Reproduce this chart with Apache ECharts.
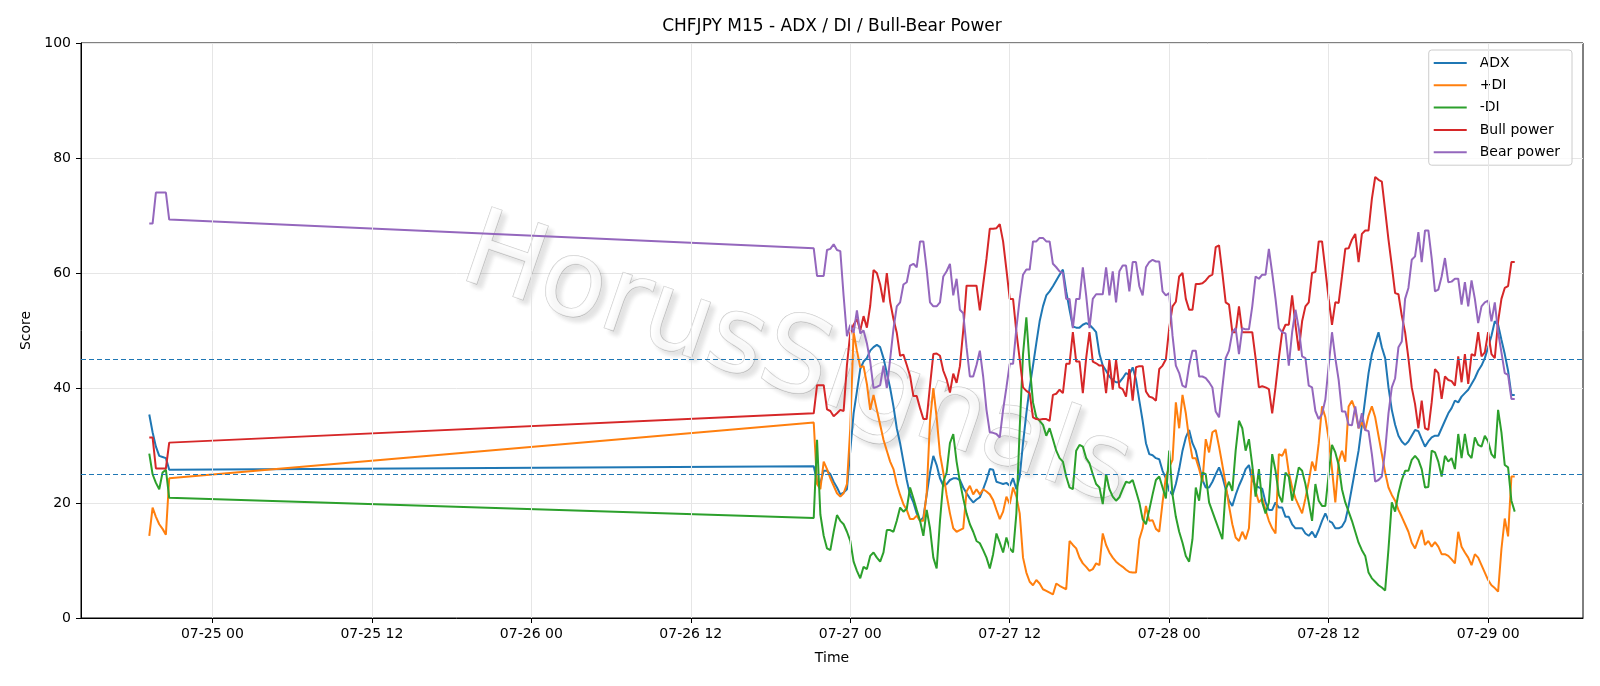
<!DOCTYPE html>
<html>
<head>
<meta charset="utf-8">
<title>CHFJPY M15 - ADX / DI / Bull-Bear Power</title>
<script src="https://cdn.jsdelivr.net/npm/echarts@6/dist/echarts.min.js"></script>
<style>
  html, body { margin: 0; padding: 0; background: #fff; }
  #chart { width: 1600px; height: 686px; }
</style>
</head>
<body>
<div id="chart"></div>
<script>
// two chunks of M15 bars (short one on 07-24, then 07-26 21:15 onwards)
const STEP = 15 * 60 * 1000;
const segStarts = [Date.UTC(2025, 6, 24, 19, 15), Date.UTC(2025, 6, 26, 21, 15)];
const segCounts = [7, 212];

const tickTimes = [
  Date.UTC(2025, 6, 25, 0), Date.UTC(2025, 6, 25, 12),
  Date.UTC(2025, 6, 26, 0), Date.UTC(2025, 6, 26, 12),
  Date.UTC(2025, 6, 27, 0), Date.UTC(2025, 6, 27, 12),
  Date.UTC(2025, 6, 28, 0), Date.UTC(2025, 6, 28, 12),
  Date.UTC(2025, 6, 29, 0)
];
const levels = [25, 45];

const adx = [
  35.4, 32.3, 29.8, 28.2, 28, 27.8, 25.8,
  26.4, 23.7, 23.5, 25.6, 25.6, 25, 23.7, 22.7, 21.5, 21.8,
  22.4, 29.1, 35.6, 39.4, 43.3, 44.6, 45.2, 46.5, 47.1, 47.5,
  47.1, 45.2, 42.6, 40, 36.8, 33, 30.4, 27.2, 24, 21.4,
  20.1, 18.2, 16.9, 17.5, 21.4, 25.3, 28.2, 26.6, 24.3, 23,
  23.3, 24, 24.3, 24.3, 24, 22.7, 21.7, 20.8, 20.1, 20.6,
  21, 22.4, 24, 25.9, 25.8, 23.7, 23.5, 23.3, 23.5, 23,
  24.3, 22.4, 24.6, 30.4, 35.6, 40.1, 43.9, 47.8, 51.6, 54.2,
  56.1, 56.8, 57.7, 58.7, 59.7, 60.6, 56.8, 53.6, 50.7, 50.5,
  50.5, 51, 51.3, 51, 50.4, 49.7, 45.9, 43.9, 43, 42,
  41.4, 41, 41, 41.7, 42.6, 42.3, 43.6, 41.5, 37.8, 34.3,
  30.4, 28.5, 28.3, 27.8, 27.6, 25.6, 24.3, 22.1, 21.4, 23.3,
  25.9, 29.1, 31.4, 32.7, 30.4, 29.1, 26.6, 24, 22.7, 22.7,
  23.7, 25, 26.2, 24.6, 22.4, 20.4, 19.5, 21.4, 23, 24.3,
  25.9, 26.6, 24, 23, 22.7, 22.5, 20.1, 18.8, 18.8, 20.1,
  19.2, 19.2, 17.6, 17.6, 16.3, 15.6, 15.6, 15.6, 14.7, 14.3,
  15, 14, 15.3, 16.9, 18.2, 16.9, 16.6, 15.6, 15.6, 15.9,
  16.9, 19.5, 22.7, 25.9, 29.1, 33.6, 38.1, 42.6, 45.9, 47.8,
  49.7, 47.1, 45.2, 40.1, 36.2, 33.6, 31.7, 30.7, 30.1, 30.7,
  31.7, 32.7, 32.5, 31.1, 29.8, 30.7, 31.4, 31.7, 31.7, 33,
  34.3, 35.6, 36.5, 37.8, 37.5, 38.5, 39.1, 39.7, 40.7, 41.7,
  43, 43.9, 45.2, 47.1, 49.1, 51.6, 51, 48.4, 45.9, 43,
  38.8, 38.8
];

const plusDi = [
  14.3, 19.2, 17.6, 16.3, 15.5, 14.5, 24.3,
  34, 23.3, 22.4, 27.2, 25.9, 24.3, 23, 21.7, 21.1, 21.7,
  23.3, 33, 49.7, 46.5, 43.6, 43.8, 40.7, 36.2, 38.8, 36.2,
  33.6, 31, 29.1, 27.2, 25.9, 23.3, 21.4, 19.8, 18.8, 17.2,
  17.2, 17.8, 16.9, 16.9, 21.7, 34.3, 40, 34.9, 28.5, 25.3,
  21.4, 18.2, 15.6, 15, 15.3, 15.6, 22, 23, 21.5, 22.4,
  21.5, 22.4, 22, 21.5, 20.5, 18.8, 17.2, 18.5, 21.1, 19.8,
  22.7, 21.1, 18.2, 10.5, 7.9, 6.3, 5.7, 6.6, 6, 5,
  4.7, 4.4, 4.1, 6, 5.6, 5.3, 5, 13.4, 12.7, 12.1,
  10.5, 9.5, 8.9, 8.2, 8.5, 9.5, 9.2, 14.7, 12.7, 11.4,
  10.5, 9.8, 9.3, 8.9, 8.4, 8, 7.9, 7.9, 13.7, 15.6,
  19.5, 16.9, 17, 15.5, 15, 20.1, 24.6, 26.2, 27.5, 37.5,
  33, 38.8, 35.6, 31.1, 27.8, 27.8, 25.9, 23.7, 31.1, 28.8,
  32.3, 32.7, 29.8, 26.6, 23.3, 19.5, 16.3, 14, 13.4, 15,
  13.7, 15.6, 25.9, 22.1, 20.1, 20.8, 18.8, 16.9, 15.6, 14.7,
  28.5, 28.2, 29.4, 25.3, 22.7, 20.8, 19.5, 18.2, 20.8, 23.7,
  27.2, 25.6, 30.4, 36.8, 34.9, 31.1, 25.9, 20.1, 27.2, 29.1,
  27.2, 36.8, 37.8, 36.2, 33, 34, 32.7, 35.2, 36.8, 34.9,
  31.7, 28.5, 25.3, 22.7, 21.4, 20.4, 18.8, 17.6, 16.3, 15,
  13.1, 12.1, 13.7, 15.3, 12.7, 13.4, 12.4, 13.2, 12.4, 11.1,
  11.1, 10.8, 10.2, 9.5, 15, 12.4, 11.4, 10.5, 9.2, 11.1,
  10.5, 9.2, 7.9, 6.6, 5.7, 5.2, 4.6, 12, 17.3, 14.2,
  24.6, 24.6
];

const minusDi = [
  28.6, 25, 23.5, 22.4, 25.3, 25.8, 20.9,
  17.4, 31, 18, 14.3, 12.1, 11.8, 15, 17.9, 16.9, 16.3,
  15, 13.4, 9.8, 8.2, 6.9, 8.9, 8.5, 10.8, 11.4, 10.5,
  9.8, 11.4, 15.3, 15.3, 15, 16.9, 19.2, 18.5, 19, 22.7,
  20.8, 18.8, 16.9, 14.3, 18.8, 15.6, 10.5, 8.6, 16.9, 23.7,
  25.3, 30.4, 32, 27.2, 23.7, 20.8, 18.2, 16.3, 15, 13.4,
  13, 11.8, 10.5, 8.6, 11.1, 14.7, 13.1, 11.4, 14, 12.1,
  11.4, 18.2, 33, 45.9, 52.3, 43.9, 37.5, 34.9, 34.3, 33.6,
  31.7, 33, 31.1, 29.1, 27.8, 27.2, 24.6, 22.7, 22.4, 29.1,
  30.1, 29.8, 27.8, 26.9, 25, 23.3, 22.7, 19.8, 25, 22.4,
  21.1, 20.4, 21, 22.4, 23.7, 23.5, 24, 22.1, 20.1, 17.2,
  16.3, 18.8, 21.5, 24, 24.6, 22.7, 20.8, 29.1, 21.4, 17.6,
  15, 13.1, 10.8, 9.8, 13.7, 22.7, 20.4, 25.3, 25, 20.1,
  18.5, 16.9, 15.3, 13.7, 22.4, 23.7, 22.1, 29.1, 34.3, 33,
  29.1, 31.1, 26.6, 21.1, 25.9, 20.1, 18.2, 20.1, 28.5, 25.6,
  21.4, 20.1, 25.3, 24.6, 20.4, 23.3, 26.2, 25.6, 23.3, 20.1,
  16.9, 23.3, 20.4, 19.5, 19.5, 25, 30.1, 28.8, 26.6, 22.4,
  20.1, 18.5, 16.9, 15, 13.1, 11.8, 10.8, 7.9, 6.9, 6.3,
  5.7, 5.3, 4.8, 12, 20.1, 18.5, 21.7, 24, 25.6, 25.6,
  27.5, 28.2, 27.5, 25.9, 22.7, 22.8, 29.1, 28.8, 27.2, 24.6,
  28.2, 27.2, 27.8, 25.9, 32, 27.8, 32, 28.5, 27.8, 31.4,
  30.1, 29.8, 31.7, 30.7, 28.5, 27.8, 36.2, 32.3, 26.6, 26.2,
  20.4, 18.5
];

const bullPower = [
  31.4, 31.4, 26, 26, 26, 26, 30.5,
  35.6, 40.5, 40.5, 40.5, 36.3, 36, 35.1, 35.6, 36.2, 36,
  44, 49.6, 51, 52, 50, 52.5, 50.5, 54.3, 60.5, 60,
  58, 54.9, 60, 55, 52, 49.6, 45.6, 45.8, 44, 42.1,
  38.6, 38.6, 36.5, 34.6, 34.6, 40.4, 45.9, 46, 45.6, 43,
  41.5, 39.2, 42.5, 40.9, 43.8, 50, 57.8, 57.8, 57.8, 57.8,
  53.5, 58, 62.5, 67.7, 67.7, 67.8, 68.5, 65.5, 60.6, 55.5,
  55.5, 49.7, 45, 40.1, 39.5, 39.1, 34.9, 34.6, 34.5, 34.6,
  34.6, 34.3, 38.8, 39, 39.7, 39.1, 44.2, 44.2, 49.7, 44.6,
  44.6, 39.1, 45.2, 49.7, 44.6, 44.3, 43.9, 43.9, 39.1, 44.9,
  39.7, 44.9, 40.1, 39.8, 38.5, 43.3, 37.8, 43.6, 43.8, 43.8,
  39.4, 38.5, 38.3, 37.8, 43.3, 43.9, 45, 50.4, 54.2, 55,
  59.4, 60, 55.5, 53.6, 53.6, 58.1, 58.1, 58.2, 58.7, 59.4,
  59.7, 64.5, 64.8, 60, 54.9, 54.5, 49.7, 49.7, 54.2, 49.7,
  49.7, 49.7, 49.7, 45.2, 40.1, 40.3, 40.1, 39.8, 35.6, 40.1,
  45.2, 49.7, 51, 51, 56.1, 51, 46.5, 51.6, 54.2, 54.9,
  60, 60.2, 65.5, 65.5, 60.6, 55.5, 51, 54.9, 54.8, 59.4,
  64.2, 64.3, 65.8, 66.8, 61.9, 66.8, 67.4, 67.4, 72.9, 76.7,
  76.2, 75.9, 70.9, 65.8, 61.3, 56.5, 56.3, 52.6, 49.7, 45.2,
  40.1, 37.2, 33, 37.8, 33, 32.7, 37.5, 43.3, 42.6, 38.1,
  42, 41.4, 41.2, 40.4, 45.5, 41, 45.9, 40.7, 45.9, 45.6,
  49.7, 45.5, 46.2, 49.7, 45.9, 45.2, 51.6, 55.5, 57.4, 57.7,
  61.9, 61.9
];

const bearPower = [
  68.6, 68.6, 74, 74, 74, 74, 69.3,
  64.3, 59.5, 59.5, 59.5, 64, 64.2, 65, 64, 63.8, 56,
  49, 51, 49.6, 53.5, 49.5, 50, 47.8, 44.6, 40, 40.2,
  40.5, 43.9, 40, 45, 50.3, 54.2, 54.9, 58, 58.4, 61.3,
  61.6, 61, 65.5, 65.5, 60.6, 54.9, 54.2, 54.2, 54.9, 59.4,
  60.3, 61.6, 56.1, 59, 53.6, 53, 47.1, 42, 42, 44,
  46.5, 42, 36.2, 32.3, 32.2, 32, 31.4, 36.2, 40.1, 44.2,
  44.2, 50.4, 55.5, 59.7, 60.6, 60.6, 65.5, 65.5, 66.1, 66.1,
  65.5, 65.5, 61.6, 61, 60.3, 60, 55.5, 55.5, 50.4, 55.5,
  55.5, 61, 56.1, 50.4, 55.5, 56.3, 56.3, 56.3, 61, 56.1,
  60.3, 54.9, 60.3, 61.3, 61.3, 56.8, 61.9, 61.9, 57.7, 56.1,
  61, 61.9, 62.3, 62, 62, 56.8, 56.1, 56.5, 49.1, 43.9,
  42.6, 40.4, 40.1, 43.9, 46.5, 46.5, 42, 42, 41.7, 41,
  40.1, 35.9, 34.9, 40.1, 45.2, 46.5, 49.7, 50.4, 45.9, 50.4,
  50.2, 50.2, 54.2, 59.4, 59, 59.7, 59.7, 64.2, 60, 55.5,
  50.4, 49.7, 49.5, 43.9, 49.7, 53.6, 50.4, 45.5, 45.2, 40.4,
  40.1, 36, 34.6, 35.5, 38, 43.9, 49.7, 45.2, 41.4, 35.9,
  35.9, 33.6, 33.5, 36.8, 33, 35.6, 32.7, 32.5, 28.5, 23.7,
  24, 24.6, 29.1, 35.6, 40.1, 41.7, 47.1, 48.1, 55.5, 57.4,
  62.3, 62.9, 67.1, 61.9, 67.4, 67.4, 62.6, 56.8, 57.1, 59.4,
  62.6, 58.4, 58.5, 59, 59, 54.5, 58.4, 54.2, 58.7, 55.5,
  51.3, 54.2, 54.9, 55.2, 51.6, 54.9, 49.7, 46.2, 42.6, 42.3,
  38.1, 38.1
];

const times = [];
segStarts.forEach((start, s) => {
  for (let k = 0; k < segCounts[s]; k++) times.push(start + k * STEP);
});

// matplotlib style 5% margin on x
const span = times[times.length - 1] - times[0];
const xMin = times[0] - span * 0.05;
const xMax = times[times.length - 1] + span * 0.05;

const pad = n => String(n).padStart(2, '0');
const fmtTime = v => {
  const d = new Date(v);
  return pad(d.getUTCMonth() + 1) + '-' + pad(d.getUTCDate()) + ' ' + pad(d.getUTCHours());
};

const FONT = 'DejaVu Sans';
const gridColor = '#e6e6e6';

const lines = [
  { name: 'ADX', values: adx, color: '#1f77b4' },
  { name: '+DI', values: plusDi, color: '#ff7f0e' },
  { name: '-DI', values: minusDi, color: '#2ca02c' },
  { name: 'Bull power', values: bullPower, color: '#d62728' },
  { name: 'Bear power', values: bearPower, color: '#9467bd' }
];

const chart = echarts.init(document.getElementById('chart'));

chart.setOption({
  animation: false,
  backgroundColor: '#fff',
  textStyle: { fontFamily: FONT },
  grid: {
    left: 81, right: 17, top: 43, bottom: 68,
    show: true, borderColor: '#000', borderWidth: 1, backgroundColor: 'transparent'
  },
  graphic: [
    {
      type: 'text', x: 832, y: 27, z: 10,
      style: {
        text: 'CHFJPY M15 - ADX / DI / Bull-Bear Power',
        font: '17px "DejaVu Sans"', fill: '#000',
        textAlign: 'center', textVerticalAlign: 'middle'
      }
    },
    {
      // watermark
      type: 'text', x: 796, y: 364, rotation: -0.33, z: 1,
      silent: true,
      style: {
        text: 'HorusSignals',
        font: '107px "DejaVu Sans"',
        fill: 'rgba(255,255,255,0.7)',
        stroke: 'rgba(130,130,130,0.45)',
        lineWidth: 1,
        textAlign: 'center', textVerticalAlign: 'middle',
        textShadowColor: 'rgba(0,0,0,0.16)',
        textShadowBlur: 4, textShadowOffsetX: 5, textShadowOffsetY: 5
      }
    }
  ],
  legend: {
    data: lines.map(l => l.name),
    orient: 'vertical',
    right: 28, top: 50,
    icon: 'rect',
    itemWidth: 33, itemHeight: 2, itemGap: 6.3,
    padding: [5, 12, 5, 5],
    backgroundColor: 'rgba(255,255,255,0.8)',
    borderColor: '#cccccc', borderWidth: 1, borderRadius: 3,
    textStyle: { fontFamily: FONT, fontSize: 14, lineHeight: 16, color: '#000', padding: [0, 0, 0, 8] }
  },
  xAxis: {
    type: 'value',
    min: xMin, max: xMax,
    name: 'Time', nameLocation: 'middle', nameGap: 33,
    nameTextStyle: { fontFamily: FONT, fontSize: 14, color: '#000' },
    axisLine: { show: true, onZero: false, lineStyle: { color: '#000', width: 1 } },
    axisTick: { show: true, customValues: tickTimes, length: 5, lineStyle: { color: '#000' } },
    axisLabel: {
      customValues: tickTimes, formatter: fmtTime,
      color: '#000', fontSize: 14, fontFamily: FONT, margin: 9
    },
    splitLine: { show: false }
  },
  yAxis: {
    type: 'value',
    min: 0, max: 100, interval: 20,
    name: 'Score', nameLocation: 'middle', nameGap: 48, nameRotate: 90,
    nameTextStyle: { fontFamily: FONT, fontSize: 14, color: '#000' },
    axisLine: { show: true, lineStyle: { color: '#000', width: 1 } },
    axisTick: { show: true, length: 5, lineStyle: { color: '#000' } },
    axisLabel: { color: '#000', fontSize: 14, fontFamily: FONT, margin: 10 },
    splitLine: { show: true, lineStyle: { color: gridColor, width: 1 } }
  },
  series: [
    {
      // vertical grid lines at the tick positions
      type: 'line', data: [], z: 1, silent: true,
      markLine: {
        silent: true, symbol: ['none', 'none'], label: { show: false },
        lineStyle: { color: gridColor, type: 'solid', width: 1 },
        emphasis: { disabled: true },
        data: tickTimes.map(t => ({ xAxis: t }))
      }
    },
    {
      // reference levels
      type: 'line', data: [], z: 4, silent: true,
      markLine: {
        silent: true, symbol: ['none', 'none'], label: { show: false },
        lineStyle: { color: '#1f77b4', type: [5, 3], width: 1.2 },
        emphasis: { disabled: true },
        data: levels.map(v => ({ yAxis: v }))
      }
    }
  ].concat(lines.map(l => ({
    name: l.name,
    type: 'line',
    z: 3,
    symbol: 'none',
    color: l.color,
    lineStyle: { color: l.color, width: 2 },
    emphasis: { disabled: true },
    data: times.map((t, k) => [t, l.values[k]])
  })))
});
</script>
</body>
</html>
